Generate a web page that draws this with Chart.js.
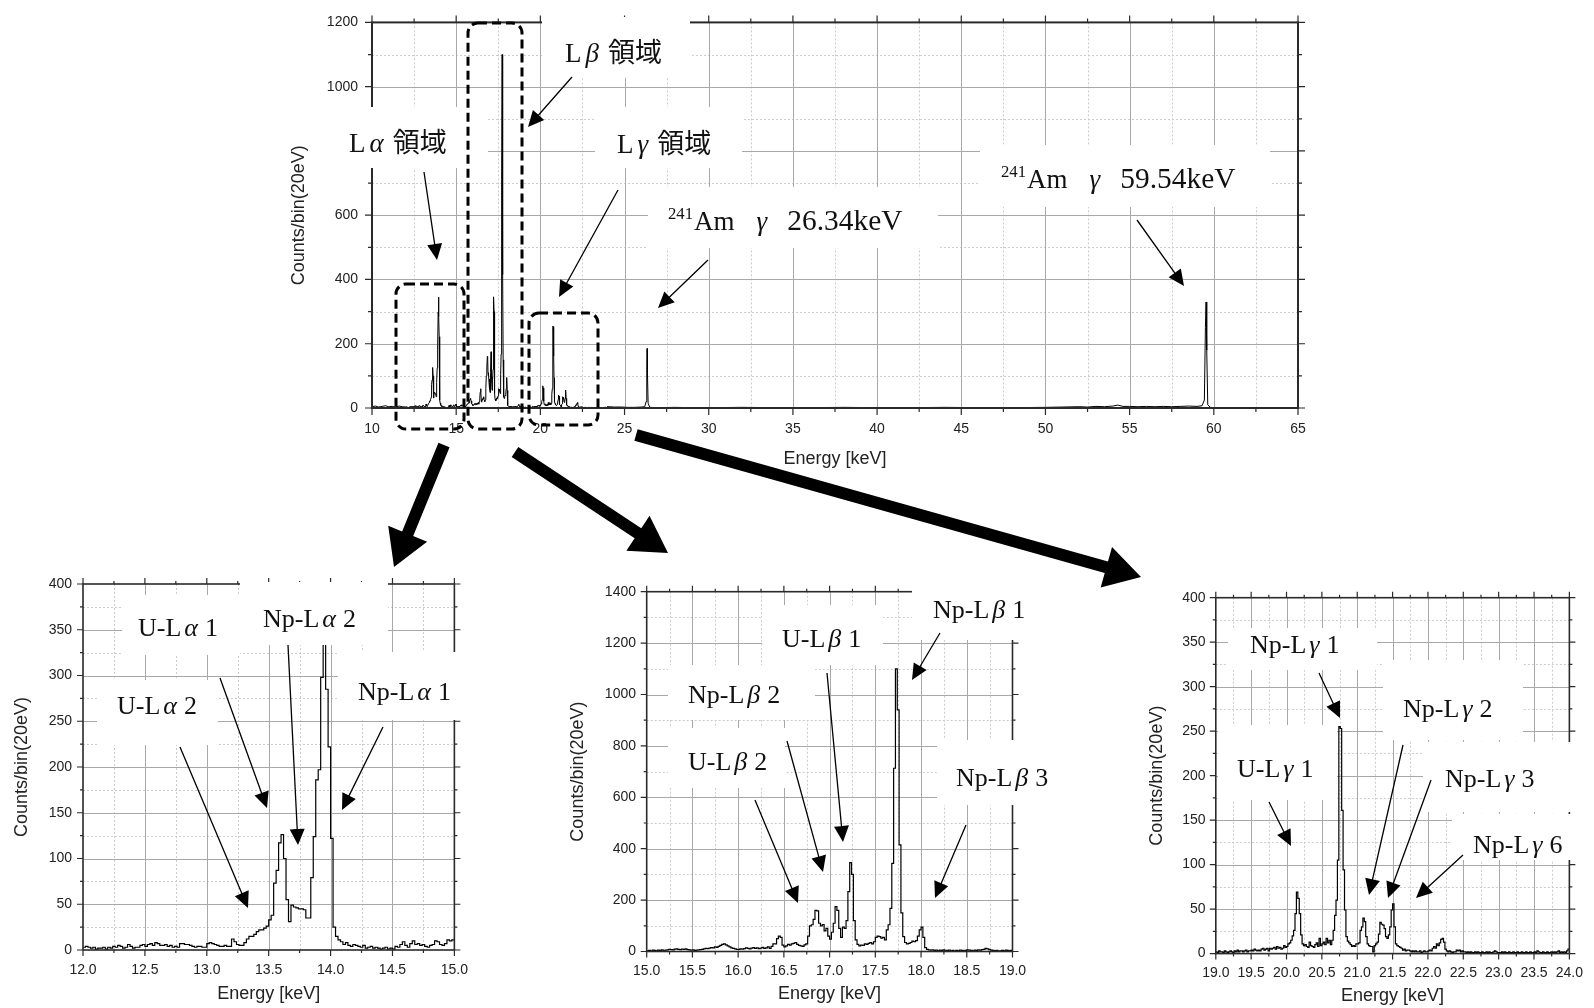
<!DOCTYPE html>
<html>
<head>
<meta charset="utf-8">
<script src="https://cdn.jsdelivr.net/npm/chart.js@4.4.1/dist/chart.umd.min.js"></script>
<style>
body { margin: 0; background: #fff; }
#page { position: relative; width: 1594px; height: 1008px; overflow: hidden; background: #fff; }
#page canvas { position: absolute; }
</style>
</head>
<body>
<div id="page">
  <canvas id="cTop" width="1080" height="490" style="left:260px;top:0px"></canvas>
  <canvas id="cLa" width="480" height="468" style="left:0px;top:540px"></canvas>
  <canvas id="cLb" width="520" height="468" style="left:540px;top:540px"></canvas>
  <canvas id="cLg" width="494" height="468" style="left:1100px;top:540px"></canvas>
  <canvas id="over" width="1594" height="1008" style="left:0px;top:0px"></canvas>
</div>
<script>
// bin width 20 eV
const binW = 0.02;

// L-alpha region, bins from 12.00 keV
const laCounts = [
  3,4,3,2,3,1,2,2,3,1, 3,2,4,3,5,4,2,3,6,4, 2,3,3,5,6,4,6,7,5,8, 7,5,5,6,4,5,3,4,3,7,
  7,6,6,5,4,3,4,4,3,3, 7,8,7,6,5,4,4,5,4,4, 12,9,6,5,5,8,12,15,15,17, 20,22,22,24,26,33,38,73,87,117,
  126,100,55,31,49,47,46,45,45,44, 35,35,79,124,186,197,298,345,285,222, 122,25,15,11,9,6,8,5,4,6,
  5,4,3,5,2,3,4,2,3,2, 1,2,3,1,2,1,4,3,6,9, 5,3,7,10,6,7,5,6,4,3, 5,6,10,9,6,5,7,11,10,11
];

// L-beta region, bins from 15.00 keV
const lbCounts = [
  3,4,2,5,4,3,5,4,6,3, 5,6,8,7,6,9,10,8,7,9, 8,10,7,6,5,6,4,5,6,7, 8,10,12,11,13,15,14,18,16,20,
  24,28,30,26,22,18,14,12,10,8, 8,10,9,11,14,12,10,13,15,12, 14,11,13,16,12,14,18,12,20,30,
  30,50,60,55,25,18,22,28,25,30, 32,35,28,24,22,20,26,30,60,100, 104,125,160,158,110,100,105,80,90,60,
  48,75,110,175,160,90,55,95,90,120, 233,346,300,120,45,28,22,25,24,30, 28,32,35,30,38,55,60,58,52,55,
  45,84,104,168,343,713,1100,940,415,150, 58,35,30,32,35,40,38,42,60,84, 95,55,15,8,6,5,6,4,5,3,
  5,4,6,3,4,5,3,4,2,4, 3,5,4,3,4,6,5,4,3,5, 4,6,5,7,8,12,10,7,5,4, 3,4,2,3,4,3,5,4,3,4
];

// L-gamma region, bins from 19.00 keV
const lgCounts = [
  2,1,3,2,2,1,3,2,1,2, 3,2,1,3,2,4,2,3,3,2, 3,4,2,3,3,4,3,5,4,3, 4,3,5,6,4,5,6,3,6,5,
  6,7,5,8,6,7,5,6,9,7, 8,11,12,15,20,26,45,69,62,45, 21,11,9,10,8,7,13,9,8,7, 10,12,8,17,9,11,13,10,17,12,
  15,10,15,26,43,60,105,255,253,161, 94,49,19,14,12,10,8,9,8,11, 11,12,26,30,40,36,19,11,9,8,
  8,2,9,11,13,22,35,33,32,28, 19,17,21,30,49,56,30,11,9,8, 7,6,4,5,3,4,4,3,2,3,
  2,3,2,2,3,1,2,3,2,2, 3,4,3,6,8,6,11,9,12,16, 17,13,5,3,2,3,2,1,2,2, 4,3,4,2,3,2,2,1,2,1,
  2,1,1,2,1,2,1,1,2,1, 1,2,1,2,1,1,2,3,2,1, 1,1,2,1,2,1,1,2,1,1, 2,1,1,2,1,1,2,1,1,2,
  1,1,2,1,1,2,1,3,2,1, 1,2,1,1,2,1,1,2,1,2, 1,2,3,1,2,1,2,1,3,5
];

// full spectrum outside the three regions
const topLowE = [10.0, 10.2, 10.4, 10.6, 10.8, 11.0, 11.2, 11.4, 11.6, 11.8];
const topLowCounts = [4, 6, 3, 5, 7, 4, 5, 3, 6, 4];
const topHighE = [24.0, 24.4, 24.8, 25.2, 25.6, 26.0, 26.2, 26.28, 26.32, 26.34, 26.36, 26.4, 26.5, 27, 28, 29, 30,
  32, 34, 36, 38, 40, 42, 44, 46, 48, 50, 51, 52, 52.5, 53, 53.5, 54, 54.3, 54.6, 55, 55.5, 56, 56.5, 57, 57.5,
  58, 58.5, 59, 59.3, 59.44, 59.5, 59.54, 59.58, 59.64, 59.8, 60, 61, 62, 63, 64, 65];
const topHighCounts = [4, 3, 3, 2, 2, 3, 4, 20, 120, 185, 110, 15, 2, 1, 2, 1, 1,
  2, 1, 1, 2, 1, 1, 2, 1, 1, 2, 3, 4, 3, 5, 4, 6, 9, 5, 5, 4, 5, 4, 5, 4,
  5, 6, 5, 7, 25, 250, 330, 180, 10, 2, 1, 1, 0, 1, 0, 0];

function binsToSteps(e0, arr) {
  const pts = arr.map((c, i) => ({x: e0 + binW * i, y: c}));
  pts.push({x: e0 + binW * arr.length, y: arr[arr.length - 1]});
  return pts;
}

const topData = [];
topLowE.forEach((e, i) => topData.push({x: e, y: topLowCounts[i]}));
[[12, laCounts], [15, lbCounts], [19, lgCounts]].forEach(([e0, arr]) => {
  arr.forEach((c, i) => topData.push({x: e0 + binW * i + binW / 2, y: c}));
});
topHighE.forEach((e, i) => topData.push({x: e, y: topHighCounts[i]}));

// grid, border and outward ticks
function steps(scale, minor, major) {
  const out = [];
  const n = Math.round((scale.max - scale.min) / minor);
  const every = Math.round(major / minor);
  for (let i = 0; i <= n; i++) out.push({v: scale.min + i * minor, major: i % every === 0, edge: i === 0 || i === n});
  return out;
}

const framePlugin = {
  id: 'frame',
  beforeDatasetsDraw(chart, args, o) {
    const {ctx, chartArea: a} = chart;
    const xs = chart.scales.x, ys = chart.scales.y;
    ctx.save();
    ctx.lineWidth = 1;
    [false, true].forEach(maj => {
      ctx.strokeStyle = maj ? '#a8a8a8' : '#cccccc';
      ctx.setLineDash(maj ? [] : [2, 2]);
      ctx.beginPath();
      steps(xs, o.xMinor, o.xMajor).forEach(s => {
        if (s.edge || s.major !== maj) return;
        const p = Math.round(xs.getPixelForValue(s.v)) + 0.5;
        ctx.moveTo(p, a.top); ctx.lineTo(p, a.bottom);
      });
      steps(ys, o.yMinor, o.yMajor).forEach(s => {
        if (s.edge || s.major !== maj) return;
        const p = Math.round(ys.getPixelForValue(s.v)) + 0.5;
        ctx.moveTo(a.left, p); ctx.lineTo(a.right, p);
      });
      ctx.stroke();
    });
    ctx.restore();
  },
  afterDatasetsDraw(chart, args, o) {
    const {ctx, chartArea: a} = chart;
    const xs = chart.scales.x, ys = chart.scales.y;
    ctx.save();
    ctx.strokeStyle = '#2a2a2a';
    ctx.lineWidth = o.border;
    ctx.strokeRect(a.left, a.top, a.right - a.left, a.bottom - a.top);
    ctx.lineWidth = 1.2;
    ctx.beginPath();
    steps(xs, o.xMinor, o.xMajor).forEach(s => {
      const p = xs.getPixelForValue(s.v), len = s.major ? o.tickMajor : o.tickMinor;
      ctx.moveTo(p, a.bottom); ctx.lineTo(p, a.bottom + len);
      ctx.moveTo(p, a.top); ctx.lineTo(p, a.top - len);
    });
    steps(ys, o.yMinor, o.yMajor).forEach(s => {
      const p = ys.getPixelForValue(s.v), len = s.major ? o.tickMajor : o.tickMinor;
      ctx.moveTo(a.left, p); ctx.lineTo(a.left - len, p);
      ctx.moveTo(a.right, p); ctx.lineTo(a.right + len, p);
    });
    ctx.stroke();
    ctx.restore();
  }
};

const tickFont = {family: '"Liberation Sans", Arial, sans-serif', size: 14};
const titleFont = {family: '"Liberation Sans", Arial, sans-serif', size: 18};

function makeChart(id, cfg) {
  return new Chart(document.getElementById(id), {
    type: 'line',
    data: {
      datasets: [{
        data: cfg.data,
        borderColor: '#000',
        borderWidth: cfg.lineWidth,
        stepped: cfg.stepped,
        pointRadius: 0,
        tension: 0,
        fill: false
      }]
    },
    plugins: [framePlugin],
    options: {
      responsive: false,
      animation: false,
      events: [],
      layout: {padding: {left: 0, right: cfg.padRight, top: cfg.padTop, bottom: 0}},
      plugins: {
        legend: {display: false},
        tooltip: {enabled: false},
        frame: cfg.frame
      },
      scales: {
        x: {
          type: 'linear', min: cfg.xMin, max: cfg.xMax,
          grid: {display: false, drawTicks: false, tickLength: 0},
          border: {display: false},
          ticks: {
            stepSize: cfg.xStep, autoSkip: false, maxRotation: 0, padding: cfg.xTickPad,
            font: tickFont, color: '#222', callback: cfg.xFmt
          },
          title: {display: true, text: 'Energy [keV]', font: titleFont, color: '#222', padding: {top: 0, bottom: cfg.xTitlePad}},
          afterFit: s => { s.height = cfg.xHeight; }
        },
        y: {
          type: 'linear', min: 0, max: cfg.yMax,
          grid: {display: false, drawTicks: false, tickLength: 0},
          border: {display: false},
          ticks: {stepSize: cfg.yStep, autoSkip: false, padding: cfg.yTickPad, font: tickFont, color: '#222', callback: v => String(v)},
          title: {display: true, text: 'Counts/bin(20eV)', font: titleFont, color: '#222', padding: {top: cfg.yTitlePad, bottom: 0}},
          afterFit: s => { s.width = cfg.yWidth; }
        }
      }
    }
  });
}

makeChart('cTop', {
  data: topData, lineWidth: 1, stepped: false,
  xMin: 10, xMax: 65, xStep: 5, yMax: 1200, yStep: 200, xFmt: v => String(v),
  padRight: 42, padTop: 19, xHeight: 82, yWidth: 112,
  xTickPad: 13, xTitlePad: 20, yTickPad: 14, yTitlePad: 28,
  frame: {xMinor: 2.5, xMajor: 5, yMinor: 100, yMajor: 200, tickMajor: 7, tickMinor: 4, border: 2}
});

makeChart('cLa', {
  data: binsToSteps(12, laCounts), lineWidth: 1.2, stepped: true,
  xMin: 12, xMax: 15, xStep: 0.5, yMax: 400, yStep: 50, xFmt: v => v.toFixed(1),
  padRight: 25, padTop: 44, xHeight: 58, yWidth: 83,
  xTickPad: 12, xTitlePad: 3, yTickPad: 11, yTitlePad: 11,
  frame: {xMinor: 0.25, xMajor: 0.5, yMinor: 25, yMajor: 50, tickMajor: 6, tickMinor: 3, border: 1.6}
});

makeChart('cLb', {
  data: binsToSteps(15, lbCounts), lineWidth: 1.2, stepped: true,
  xMin: 15, xMax: 19, xStep: 0.5, yMax: 1400, yStep: 200, xFmt: v => v.toFixed(1),
  padRight: 47.5, padTop: 51.7, xHeight: 56.5, yWidth: 106.7,
  xTickPad: 11, xTitlePad: 3, yTickPad: 10.7, yTitlePad: 27.7,
  frame: {xMinor: 0.25, xMajor: 0.5, yMinor: 100, yMajor: 200, tickMajor: 6, tickMinor: 3, border: 1.6}
});

makeChart('cLg', {
  data: binsToSteps(19, lgCounts), lineWidth: 1.2, stepped: true,
  xMin: 19, xMax: 24, xStep: 0.5, yMax: 400, yStep: 50, xFmt: v => v.toFixed(1),
  padRight: 20.3, padTop: 57.7, xHeight: 54.4, yWidth: 115.8,
  xTickPad: 11, xTitlePad: 1.2, yTickPad: 10.2, yTitlePad: 46.2,
  frame: {xMinor: 0.25, xMajor: 0.5, yMinor: 25, yMajor: 50, tickMajor: 6, tickMinor: 3, border: 1.6}
});

// annotations, page coordinates
const whiteBoxes = [
  [330, 107, 158, 61], [542, 17, 148, 61], [595, 107, 147, 61], [648, 187, 290, 61], [980, 145, 290, 62],
  [122, 595, 118, 60], [240, 582, 148, 63], [97, 680, 121, 65], [338, 652, 124, 68],
  [912, 583, 125, 57], [762, 605, 121, 60], [668, 665, 147, 55], [668, 728, 117, 60], [937, 740, 110, 65],
  [1228, 628, 149, 42], [1383, 660, 140, 80], [1218, 725, 119, 75], [1423, 742, 160, 70], [1452, 814, 130, 46]
];
const dashedBoxes = [[396, 284, 68, 145], [468, 23, 54, 406], [529, 313, 69, 112]];
const thinArrows = [
  [424, 172, 437, 260], [572, 77, 528, 127], [618, 190, 559, 297], [708, 260, 658, 308], [1137, 220, 1184, 286],
  [220, 678, 267, 808], [288, 645, 298, 845], [180, 747, 248, 908], [383, 727, 342, 810],
  [940, 633, 912, 680], [827, 673, 843, 842], [787, 741, 823, 872], [755, 800, 798, 903], [966, 825, 935, 898],
  [1319, 673, 1340, 718], [1269, 802, 1291, 846], [1403, 745, 1369, 895], [1431, 780, 1388, 898], [1463, 855, 1416, 898]
];
const bigArrows = [[444, 445, 394, 567], [515, 452, 668, 553], [636, 435, 1141, 577]];

function region(x, y, g) {
  return {x, y, size: 27, runs: [['L', 'r'], [g, 'i', 4], ['領域', 'k', 9]]};
}
function amLine(x, y, e) {
  return {x, y, size: 27, runs: [['241', 's'], ['Am', 'r', 1], ['γ', 'i', 22], [e, 'w', 20]]};
}
function line(x, y, el, g, n) {
  return {x, y, size: 26, runs: [[el + '-L', 'r'], [g, 'i', 3], [n, 'r', 7]]};
}
const labels = [
  region(349, 152, 'α'), region(565, 62, 'β'), region(617, 153, 'γ'),
  amLine(668, 230, '26.34keV'), amLine(1001, 188, '59.54keV'),
  line(138, 636, 'U', 'α', '1'), line(263, 627, 'Np', 'α', '2'), line(117, 714, 'U', 'α', '2'), line(358, 700, 'Np', 'α', '1'),
  line(933, 618, 'Np', 'β', '1'), line(782, 647, 'U', 'β', '1'), line(688, 703, 'Np', 'β', '2'), line(688, 770, 'U', 'β', '2'), line(956, 786, 'Np', 'β', '3'),
  line(1250, 653, 'Np', 'γ', '1'), line(1403, 717, 'Np', 'γ', '2'), line(1237, 777, 'U', 'γ', '1'), line(1445, 787, 'Np', 'γ', '3'), line(1473, 853, 'Np', 'γ', '6')
];

const ov = document.getElementById('over').getContext('2d');

function roundBox(ctx, x, y, w, h, r) {
  ctx.beginPath();
  ctx.moveTo(x + r, y);
  ctx.arcTo(x + w, y, x + w, y + h, r);
  ctx.arcTo(x + w, y + h, x, y + h, r);
  ctx.arcTo(x, y + h, x, y, r);
  ctx.arcTo(x, y, x + w, y, r);
  ctx.closePath();
}

function arrow(ctx, x1, y1, x2, y2, w, hl, hw) {
  const L = Math.hypot(x2 - x1, y2 - y1), ux = (x2 - x1) / L, uy = (y2 - y1) / L, nx = -uy, ny = ux;
  const bx = x2 - ux * hl, by = y2 - uy * hl;
  ctx.beginPath();
  ctx.moveTo(x1 + nx * w / 2, y1 + ny * w / 2);
  ctx.lineTo(bx + nx * w / 2, by + ny * w / 2);
  ctx.lineTo(bx + nx * hw / 2, by + ny * hw / 2);
  ctx.lineTo(x2, y2);
  ctx.lineTo(bx - nx * hw / 2, by - ny * hw / 2);
  ctx.lineTo(bx - nx * w / 2, by - ny * w / 2);
  ctx.lineTo(x1 - nx * w / 2, y1 - ny * w / 2);
  ctx.closePath();
  ctx.fill();
}

function drawLabel(ctx, lab) {
  let x = lab.x;
  ctx.textBaseline = 'alphabetic';
  lab.runs.forEach(([t, st, gap]) => {
    x += gap || 0;
    let size = lab.size, dy = 0, style = '';
    if (st === 'i') style = 'italic ';
    if (st === 's') { size = lab.size * 0.62; dy = -lab.size * 0.4; }
    if (st === 'w') size = lab.size * 1.09; // keV values are set a bit larger
    ctx.font = style + size + 'px "Liberation Serif", "Noto Sans CJK JP", serif';
    ctx.fillText(t, x, lab.y + dy);
    x += ctx.measureText(t).width;
  });
}

ov.fillStyle = '#fff';
whiteBoxes.forEach(b => ov.fillRect(b[0], b[1], b[2], b[3]));

ov.save();
ov.strokeStyle = '#000';
ov.lineWidth = 3;
ov.setLineDash([9, 5]);
dashedBoxes.forEach(b => { roundBox(ov, b[0], b[1], b[2], b[3], 10); ov.stroke(); });
ov.restore();

ov.fillStyle = '#000';
thinArrows.forEach(a => arrow(ov, a[0], a[1], a[2], a[3], 1.3, 16, 15));
bigArrows.forEach(a => arrow(ov, a[0], a[1], a[2], a[3], 12, 36, 42));

ov.fillStyle = '#111';
labels.forEach(l => drawLabel(ov, l));
</script>
</body>
</html>
